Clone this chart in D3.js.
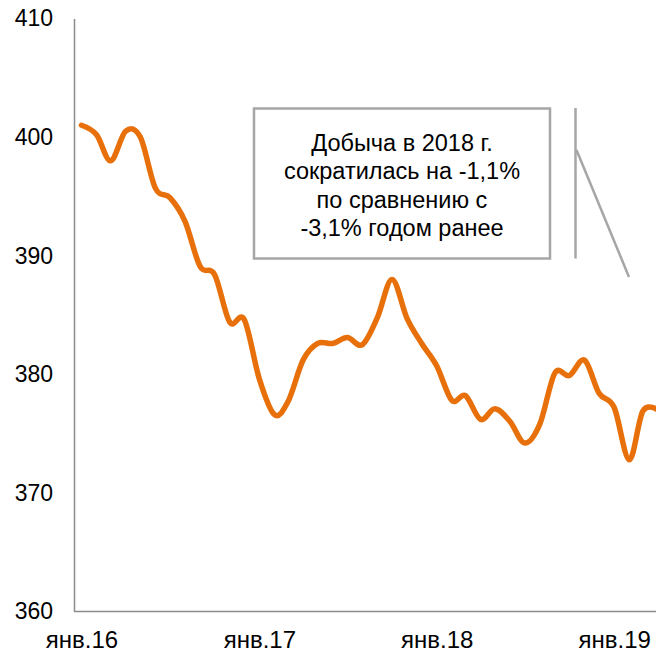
<!DOCTYPE html>
<html>
<head>
<meta charset='utf-8'>
<script src='https://d3js.org/d3.v7.min.js'></script>
<style>
body {margin:0; background:#fff;}
svg text {font-family:Arial, 'Liberation Sans', sans-serif; fill:#000;}
</style>
</head>
<body>
<svg width=656 height=651></svg>
<script>
// monthly values, Jan 2016 - Apr 2019
var startMonth = new Date(2016,0,1)
var endMonth = new Date(2019,3,1)
var values = [401.0,400.2,398.0,400.5,400.0,395.7,394.9,392.9,389.1,388.4,
              384.4,384.6,379.6,376.6,377.7,381.2,382.6,382.6,383.1,382.5,
              384.8,388.0,384.7,382.6,380.7,377.8,378.2,376.2,377.1,376.0,
              374.2,375.8,380.1,379.9,381.2,378.4,377.2,372.8,376.9,377.0]
var yTicks = [360,370,380,390,400,410]
var xTickDates = [new Date(2016,0,1),new Date(2017,0,1),new Date(2018,0,1),new Date(2019,0,1)]
var xTickLabels = ['янв.16','янв.17','янв.18','янв.19']
var noteLines = ['Добыча в 2018 г.','сократилась на -1,1%','по сравнению с','-3,1% годом ранее']

var months = d3.timeMonth.range(startMonth, d3.timeMonth.offset(endMonth,1))
var data = months.map(function(d,i){return {date:d, value:values[i]}})

var svg = d3.select('svg')

var x = d3.scaleTime().domain([startMonth,endMonth]).range([81.5,657.9])
var y = d3.scaleLinear().domain([360,410]).range([611.5,18.5])

//y axis
var yAxis = svg.append('g')
    .attr('transform','translate(74,0)')
    .call(d3.axisLeft(y).tickValues(yTicks).tickSize(0).tickPadding(21).tickFormat(d3.format('d')))
yAxis.select('.domain').attr('stroke','#8c8c8c').attr('stroke-width',1.5)
yAxis.selectAll('text').attr('font-size',23).style('font-family','Arial, "Liberation Sans", sans-serif')

//x axis
var xAxis = svg.append('g')
    .attr('transform','translate(0,611.5)')
    .call(d3.axisBottom(x).tickValues(xTickDates).tickSize(0).tickPadding(19)
          .tickFormat(function(d,i){return xTickLabels[i]}))
xAxis.select('.domain').remove()
xAxis.selectAll('text').attr('font-size',24).style('font-family','Arial, "Liberation Sans", sans-serif')
svg.append('line')
    .attr('x1',74).attr('x2',656)
    .attr('y1',611.5).attr('y2',611.5)
    .attr('stroke','#8c8c8c').attr('stroke-width',1.5)

//line
var line = d3.line()
    .x(function(d){return x(d.date)})
    .y(function(d){return y(d.value)})
    .curve(d3.curveCardinal.tension(0))
svg.append('path')
    .datum(data)
    .attr('d',line)
    .attr('fill','none')
    .attr('stroke','#e8700a')
    .attr('stroke-width',5.5)
    .attr('stroke-linejoin','round')
    .attr('stroke-linecap','round')

//annotation box
svg.append('rect')
    .attr('x',254).attr('y',108.5)
    .attr('width',296).attr('height',150)
    .attr('fill','#fff')
    .attr('stroke','#a6a6a6').attr('stroke-width',2.5)
svg.append('g').selectAll('text')
  .data(noteLines)
  .enter()
  .append('text')
    .attr('x',402)
    .attr('y',function(d,i){return 151+i*28.4})
    .attr('text-anchor','middle')
    .attr('font-size',23.5)
    .text(function(d){return d})

//leader lines
svg.append('line')
    .attr('x1',575.5).attr('x2',575.5).attr('y1',108).attr('y2',258.5)
    .attr('stroke','#a6a6a6').attr('stroke-width',2.5)
svg.append('line')
    .attr('x1',576.5).attr('y1',150).attr('x2',629).attr('y2',277)
    .attr('stroke','#a6a6a6').attr('stroke-width',2.5)
</script>
</body>
</html>
